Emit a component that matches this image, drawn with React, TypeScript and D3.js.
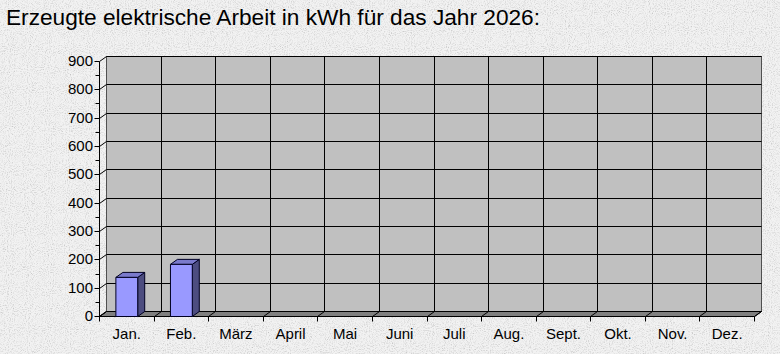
import React from "react";
import * as d3 from "d3";

// Monthly generated energy (kWh)
const months = ["Jan.", "Feb.", "März", "April", "Mai", "Juni", "Juli", "Aug.", "Sept.", "Okt.", "Nov.", "Dez."];
const energy: (number | null)[] = [138, 184, null, null, null, null, null, null, null, null, null, null];
const yTicks = [0, 100, 200, 300, 400, 500, 600, 700, 800, 900];
const yMinorTicks = [50, 150, 250, 350, 450, 550, 650, 750, 850];
const title = "Erzeugte elektrische Arbeit in kWh für das Jahr 2026:";

const W = 780;
const H = 354;
const FONT = "'Liberation Sans', Arial, sans-serif";

// front plane of the plot and the depth offset of the back wall
const X0 = 99.5;
const X1 = 754.5;
const Y_TOP = 61.5;
const Y_BOT = 316.5;
const DX = 7;
const DY = 5;

const crisp = (v: number) => Math.round(v - 0.5) + 0.5;

export default function App() {
  const x = d3.scaleBand<string>().domain(months).range([X0, X1]).padding(0);
  const y = d3.scaleLinear().domain([0, 900]).range([Y_BOT, Y_TOP]);
  const step = x.step();
  const barW = step / 2.5;

  const wallL = X0 + DX;
  const wallR = X1 + DX;
  const wallT = Y_TOP - DY;
  const wallB = Y_BOT - DY;

  const boundaries = d3.range(months.length + 1).map((i) => X0 + i * step);

  return (
    <svg
      width={W}
      height={H}
      viewBox={`0 0 ${W} ${H}`}
      style={{ position: "absolute", left: 0, top: 0, display: "block" }}
    >
      <defs>
        <filter id="granite" x="0" y="0" width="100%" height="100%">
          <feTurbulence type="fractalNoise" baseFrequency="0.95" numOctaves="2" seed="3" result="noise" />
          <feColorMatrix
            in="noise"
            type="matrix"
            values="0 0 0 0 0.55  0 0 0 0 0.55  0 0 0 0 0.55  1.1 1.1 1.1 0 -1.55"
            result="speck"
          />
          <feFlood floodColor="#f2f2f2" result="base" />
          <feComposite in="speck" in2="base" operator="over" />
        </filter>
      </defs>

      {/* textured background */}
      <rect x={0} y={0} width={W} height={H} fill="#eeeeee" filter="url(#granite)" />

      {/* title */}
      <text x={6} y={25} fontFamily={FONT} fontSize={22} fill="#000" textLength={534} lengthAdjust="spacingAndGlyphs">
        {title}
      </text>

      {/* back wall */}
      <rect x={wallL} y={wallT} width={wallR - wallL} height={wallB - wallT} fill="#c0c0c0" stroke="#505050" strokeWidth={1} />

      {/* floor */}
      <polygon
        points={`${X0},${Y_BOT} ${X1},${Y_BOT} ${wallR},${wallB} ${wallL},${wallB}`}
        fill="#808080"
        stroke="#000"
        strokeWidth={1}
      />

      {/* horizontal gridlines: along the wall and across the left side */}
      {yTicks.map((t) => {
        const yf = crisp(y(t));
        const yw = yf - DY;
        return (
          <g key={`h${t}`} stroke="#000" strokeWidth={1}>
            <line x1={wallL} x2={wallR} y1={yw} y2={yw} />
            <line x1={X0} y1={yf} x2={wallL} y2={yw} />
          </g>
        );
      })}

      {/* vertical gridlines: down the wall and across the floor */}
      {boundaries.map((bx, i) => {
        const xf = crisp(bx);
        const xw = xf + DX;
        return (
          <g key={`v${i}`} stroke="#000" strokeWidth={1}>
            {i > 0 && i < months.length && <line x1={xw} x2={xw} y1={wallT} y2={wallB} />}
            <line x1={xf} y1={Y_BOT} x2={xw} y2={wallB} />
            <line x1={xf} x2={xf} y1={Y_BOT} y2={Y_BOT + 5} />
          </g>
        );
      })}

      {/* value axis */}
      <line x1={X0} x2={X0} y1={Y_TOP} y2={Y_BOT} stroke="#000" />
      <line x1={X0} x2={X1} y1={Y_BOT} y2={Y_BOT} stroke="#000" />
      {yTicks.map((t) => {
        const yf = crisp(y(t));
        return (
          <g key={`yt${t}`}>
            <line x1={X0 - 5} x2={X0} y1={yf} y2={yf} stroke="#000" />
            <text x={93} y={yf + 4.5} textAnchor="end" fontFamily={FONT} fontSize={15} fill="#000">
              {t}
            </text>
          </g>
        );
      })}
      {yMinorTicks.map((t) => {
        const yf = crisp(y(t));
        return <line key={`ym${t}`} x1={X0 - 4} x2={X0} y1={yf} y2={yf} stroke="#000" />;
      })}

      {/* 3D columns */}
      {months.map((m, i) => {
        const v = energy[i];
        if (v == null) return null;
        const xl = (x(m) as number) + (step - barW) / 2;
        const xr = xl + barW;
        const yt = y(v);
        const yb = y(0);
        return (
          <g key={`b${m}`} stroke="#000022" strokeWidth={1} strokeLinejoin="round">
            <polygon points={`${xr},${yt} ${xr + DX},${yt - DY} ${xr + DX},${yb - DY} ${xr},${yb}`} fill="#4d4d80" />
            <polygon points={`${xl},${yt} ${xl + DX},${yt - DY} ${xr + DX},${yt - DY} ${xr},${yt}`} fill="#7a7acc" />
            <rect x={xl} y={yt} width={barW} height={yb - yt} fill="#9999ff" />
          </g>
        );
      })}

      {/* category labels */}
      {months.map((m) => (
        <text
          key={`xl${m}`}
          x={(x(m) as number) + step / 2}
          y={339}
          textAnchor="middle"
          fontFamily={FONT}
          fontSize={15}
          fill="#000"
        >
          {m}
        </text>
      ))}
    </svg>
  );
}
